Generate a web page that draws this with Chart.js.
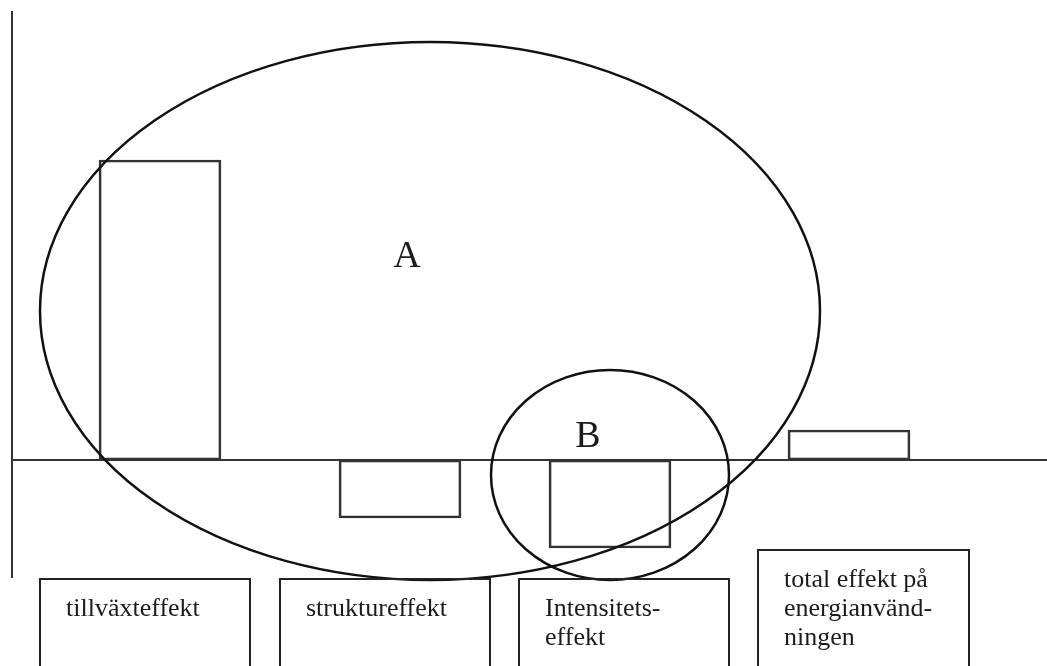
<!DOCTYPE html>
<html>
<head>
<meta charset="utf-8">
<script src="https://cdn.jsdelivr.net/npm/chart.js@4/dist/chart.umd.min.js"></script>
<style>
  html, body { margin: 0; padding: 0; background: #fff; }
  #wrap { width: 1047px; height: 666px; }
</style>
</head>
<body>
<div id="wrap"><canvas id="grafico"></canvas></div>
<script>
// Kategorier (texten i rutorna, en rad per element)
const kategorier = [
    ['tillväxteffekt'],
    ['struktureffekt'],
    ['Intensitets-', 'effekt'],
    ['total effekt på', 'energianvänd-', 'ningen']
];
// Staplarnas läge på x-axeln och deras värden
const stapelX = [160, 400, 610, 849];
const stapelVarden = [300, -58, -88, 30];

// Rutorna under diagrammet: vänster, höger, överkant
const rutaVanster = [40, 280, 519, 758];
const rutaHoger = [250, 490, 729, 969];
const rutaTopp = [-119, -119, -119, -90];

// Ellipserna A och B: [centrum x, centrum y, radie x, radie y]
const ellipsA = [430, 149, 390, 269];
const ellipsB = [610, -15, 119, 105];

document.addEventListener("DOMContentLoaded", () => {

    const ctx = document.getElementById('grafico');

    /* =========================
       AXLAR, ELLIPSER OCH RUTOR
    ========================== */
    const figurPlugin = {
        id: 'figur',
        beforeDatasetsDraw(chart) {
            const c = chart.ctx;
            const sx = chart.scales.x;
            const sy = chart.scales.y;
            c.save();
            c.strokeStyle = '#333';
            c.lineWidth = 2;
            // y-axel
            c.beginPath();
            c.moveTo(sx.getPixelForValue(12), sy.getPixelForValue(449));
            c.lineTo(sx.getPixelForValue(12), sy.getPixelForValue(-118));
            c.stroke();
            // x-axel
            c.beginPath();
            c.moveTo(sx.getPixelForValue(12), sy.getPixelForValue(0));
            c.lineTo(sx.getPixelForValue(1047), sy.getPixelForValue(0));
            c.stroke();
            c.restore();
        },
        afterDatasetsDraw(chart) {
            const c = chart.ctx;
            const sx = chart.scales.x;
            const sy = chart.scales.y;
            c.save();

            // ellipser
            c.strokeStyle = '#111';
            c.lineWidth = 2.5;
            [ellipsA, ellipsB].forEach(e => {
                const cx = sx.getPixelForValue(e[0]);
                const cy = sy.getPixelForValue(e[1]);
                const rx = Math.abs(sx.getPixelForValue(e[0] + e[2]) - cx);
                const ry = Math.abs(sy.getPixelForValue(e[1] + e[3]) - cy);
                c.beginPath();
                c.ellipse(cx, cy, rx, ry, 0, 0, Math.PI * 2);
                c.stroke();
            });

            // bokstäver
            c.fillStyle = '#1c1c1c';
            c.font = '38px "Liberation Serif", serif';
            c.textAlign = 'center';
            c.textBaseline = 'alphabetic';
            c.fillText('A', sx.getPixelForValue(407), sy.getPixelForValue(193));
            c.fillText('B', sx.getPixelForValue(588), sy.getPixelForValue(13));

            // rutor med text
            c.strokeStyle = '#222';
            c.lineWidth = 2;
            c.font = '26px "Liberation Serif", serif';
            c.textAlign = 'left';
            kategorier.forEach((rader, i) => {
                const x1 = sx.getPixelForValue(rutaVanster[i]);
                const x2 = sx.getPixelForValue(rutaHoger[i]);
                const y1 = sy.getPixelForValue(rutaTopp[i]);
                const y2 = sy.getPixelForValue(-220);
                c.strokeRect(x1, y1, x2 - x1, y2 - y1);
                rader.forEach((rad, j) => {
                    c.fillText(rad, x1 + 26, y1 + 37 + j * 29);
                });
            });
            c.restore();
        }
    };

    new Chart(ctx, {
        type: 'bar',
        data: {
            labels: kategorier.map(r => r.join(' ')),
            datasets: [{
                data: stapelX.map((x, i) => ({ x: x, y: stapelVarden[i] })),
                backgroundColor: 'rgba(255,255,255,0)',
                borderColor: '#333',
                borderWidth: 2,
                borderSkipped: false,
                barThickness: 122
            }]
        },
        options: {
            responsive: true,
            maintainAspectRatio: false,
            animation: false,
            layout: { padding: 0 },
            plugins: {
                legend: { display: false },
                tooltip: { enabled: false }
            },
            scales: {
                x: {
                    type: 'linear',
                    min: 0,
                    max: 1047,
                    offset: false,
                    display: false
                },
                y: {
                    min: -206,
                    max: 460,
                    display: false
                }
            }
        },
        plugins: [figurPlugin]
    });

});
</script>
</body>
</html>
